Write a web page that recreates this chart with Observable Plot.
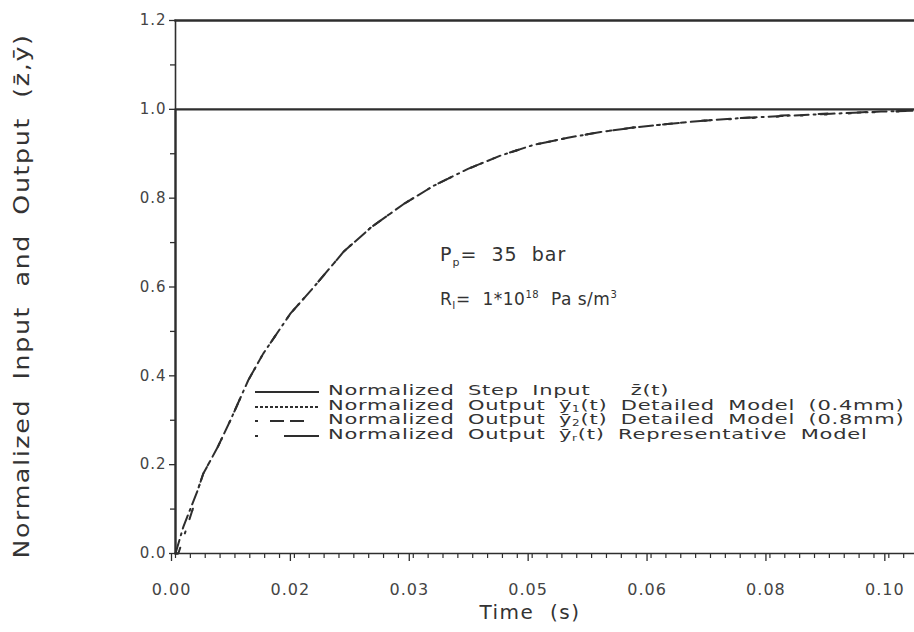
<!DOCTYPE html>
<html><head><meta charset="utf-8">
<script src="https://cdn.jsdelivr.net/npm/d3@7"></script>
<script src="https://cdn.jsdelivr.net/npm/@observablehq/plot@0.6"></script>
<style>
body{margin:0;background:#fff;}
#wrap{position:relative;width:914px;height:632px;font-family:"DejaVu Sans",sans-serif;color:#333;}
.ov{position:absolute;white-space:nowrap;color:#333;}
.row{position:absolute;left:0;height:14px;white-space:nowrap;}
.row svg{position:absolute;left:0;top:3px;}
.row span{position:absolute;left:73px;top:-3px;font-size:14px;letter-spacing:0.5px;word-spacing:4px;transform:scaleX(1.5);transform-origin:0 50%;}
.row sub{font-size:8px;line-height:0;vertical-align:-2px;}
</style></head><body><div id="wrap"></div>
<script>
// Representative model output yr(t)
const timeRep = [0, 0.0011, 0.0031, 0.0039, 0.0059, 0.0077, 0.0102, 0.0123, 0.0161, 0.0194, 0.0236, 0.0274, 0.0320, 0.0362, 0.0410, 0.0456, 0.0502, 0.0550, 0.0596, 0.0642, 0.0690, 0.0736, 0.0790, 0.0849, 0.0919, 0.0989, 0.1036];
const outRep  = [0, 0.060, 0.142, 0.180, 0.239, 0.300, 0.390, 0.450, 0.540, 0.600, 0.680, 0.734, 0.787, 0.828, 0.866, 0.896, 0.920, 0.936, 0.949, 0.959, 0.967, 0.974, 0.980, 0.985, 0.990, 0.995, 0.997];
// Detailed model 0.4 mm, y1(t)
const timeDet1 = [0, 0.0004, 0.0025, 0.0031, 0.0039, 0.0059, 0.0077, 0.0102, 0.0123, 0.0161, 0.0194, 0.0236, 0.0274, 0.0320, 0.0362, 0.0410, 0.0456, 0.0502, 0.0550, 0.0596, 0.0642, 0.0690, 0.0736, 0.0790, 0.0849, 0.0919, 0.0989, 0.1036];
const outDet1  = [0, 0.000, 0.104, 0.142, 0.180, 0.239, 0.300, 0.390, 0.450, 0.540, 0.600, 0.680, 0.734, 0.787, 0.828, 0.866, 0.896, 0.920, 0.936, 0.949, 0.959, 0.967, 0.974, 0.979, 0.984, 0.989, 0.994, 0.996];
// Detailed model 0.8 mm, y2(t)
const timeDet2 = [0, 0.0004, 0.0025, 0.0031, 0.0039, 0.0059, 0.0077, 0.0102, 0.0123, 0.0161, 0.0194, 0.0236, 0.0274, 0.0320, 0.0362, 0.0410, 0.0456, 0.0502, 0.0550, 0.0596, 0.0642, 0.0690, 0.0736, 0.0790, 0.0849, 0.0919, 0.0989, 0.1036];
const outDet2  = [0, 0.000, 0.104, 0.142, 0.180, 0.239, 0.300, 0.390, 0.450, 0.540, 0.600, 0.680, 0.734, 0.787, 0.828, 0.866, 0.896, 0.920, 0.936, 0.949, 0.959, 0.967, 0.974, 0.980, 0.986, 0.991, 0.995, 0.997];
// Normalized step input z(t)
const stepTime  = [0, 0, 0.1036];
const stepValue = [0, 1, 1];

const xTickValues = [0, 0.1/6, 0.2/6, 0.05, 0.4/6, 0.5/6, 0.1];
const xTickLabels = ["0.00", "0.02", "0.03", "0.05", "0.06", "0.08", "0.10"];
const xMinorTicks = d3.range(0, 50).map(i => i * 0.1 / 48);
const yTickValues = [0, 0.2, 0.4, 0.6, 0.8, 1.0, 1.2];
const yTickLabels = ["0.0", "0.2", "0.4", "0.6", "0.8", "1.0", "1.2"];
const yMinorTicks = [0.1, 0.3, 0.5, 0.7, 0.9, 1.1];

const ink = "#2e2e2e";
const mk = (ts, vs) => ts.map((t, i) => ({t, v: vs[i]}));
const step = mk(stepTime, stepValue);
const rep = mk(timeRep, outRep);
const det1 = mk(timeDet1, outDet1);
const det2 = mk(timeDet2, outDet2);

const chart = Plot.plot({
  width: 914, height: 632,
  marginLeft: 175, marginRight: 0, marginTop: 20, marginBottom: 79,
  x: {domain: [0, 0.1036]},
  y: {domain: [0, 1.2]},
  style: {fontFamily: "DejaVu Sans, sans-serif", fontSize: "15px", color: ink, background: "#fff", letterSpacing: "1px"},
  marks: [
    Plot.axisY({ticks: yTickValues, tickFormat: d => yTickLabels[yTickValues.indexOf(d)], tickSize: 6, tickPadding: 3, label: null, fontSize: 15, stroke: ink, strokeWidth: 1.3, fill: "#444"}),
    Plot.axisY({ticks: yMinorTicks, tickFormat: () => "", tickSize: 5, label: null, stroke: ink, strokeWidth: 1.3}),
    Plot.axisX({ticks: xTickValues, tickFormat: d => xTickLabels[xTickValues.indexOf(d)], tickSize: 8, tickPadding: 22, label: null, fontSize: 16, stroke: ink, strokeWidth: 1.3, fill: "#444", dx: -4}),
    Plot.axisX({ticks: xMinorTicks, tickFormat: () => "", tickSize: 5, label: null, stroke: ink, strokeWidth: 1.2}),
    Plot.frame({anchor: "left", stroke: ink, strokeWidth: 1.6}),
    Plot.frame({anchor: "bottom", stroke: ink, strokeWidth: 1.6}),
    Plot.frame({anchor: "top", stroke: ink, strokeWidth: 2.4}),
    Plot.line(step, {x: "t", y: "v", stroke: ink, strokeWidth: 2.2}),
    Plot.line(det1, {x: "t", y: "v", stroke: ink, strokeWidth: 2, strokeDasharray: "2,22"}),
    Plot.line(det2, {x: "t", y: "v", stroke: ink, strokeWidth: 2, strokeDasharray: "9,30"}),
    Plot.line(rep, {x: "t", y: "v", stroke: ink, strokeWidth: 2, strokeDasharray: "14,5,2,5"})
  ]
});

const wrap = document.getElementById("wrap");
wrap.appendChild(chart);

function ov(html, style) {
  const d = document.createElement("div");
  d.className = "ov";
  d.innerHTML = html;
  Object.assign(d.style, style);
  wrap.appendChild(d);
  return d;
}
// y axis title (rotated)
ov("Normalized&nbsp; Input&nbsp; and&nbsp; Output&nbsp; (z&#772;,&#563;)", {
  left: "22px", top: "296px", fontSize: "21px", letterSpacing: "1.4px",
  transform: "translate(-50%,-50%) rotate(-90deg) scale(1.2,1)"
});
// x axis title
ov("Time&nbsp; (s)", {left: "530px", top: "612px", fontSize: "20px", letterSpacing: "1.5px", transform: "translate(-50%,-50%)"});
// annotations
ov("P<sub style='font-size:11px'>p</sub>=&nbsp; 35&nbsp; bar", {left: "440px", top: "243px", fontSize: "19px", letterSpacing: "1px"});
ov("R<sub style='font-size:11px'>l</sub>=&nbsp; 1*10<sup style='font-size:10px'>18</sup>&nbsp; Pa s/m<sup style='font-size:10px'>3</sup>", {left: "440px", top: "289px", fontSize: "17px", letterSpacing: "0.5px"});

// legend
const sample = (dash) => `<svg width="64" height="8"><line x1="0" x2="64" y1="4" y2="4" stroke="${ink}" stroke-width="2" ${dash ? `stroke-dasharray="${dash}"` : ""}/></svg>`;
const legendRows = [
  [sample(null), "Normalized Step Input&nbsp;&nbsp; z&#772;(t)"],
  [sample("3,2"), "Normalized Output &#563;<sub>1</sub>(t) Detailed Model (0.4mm)"],
  [sample("3,12,14,6,14,40"), "Normalized Output &#563;<sub>2</sub>(t) Detailed Model (0.8mm)"],
  [sample("3,26,40"), "Normalized Output &#563;<sub>r</sub>(t) Representative Model"]
];
const leg = ov(legendRows.map((r, i) => `<div class="row" style="top:${i * 14.6}px">${r[0]}<span>${r[1]}</span></div>`).join(""), {left: "255px", top: "385px", width: "650px", height: "60px"});
</script></body></html>
